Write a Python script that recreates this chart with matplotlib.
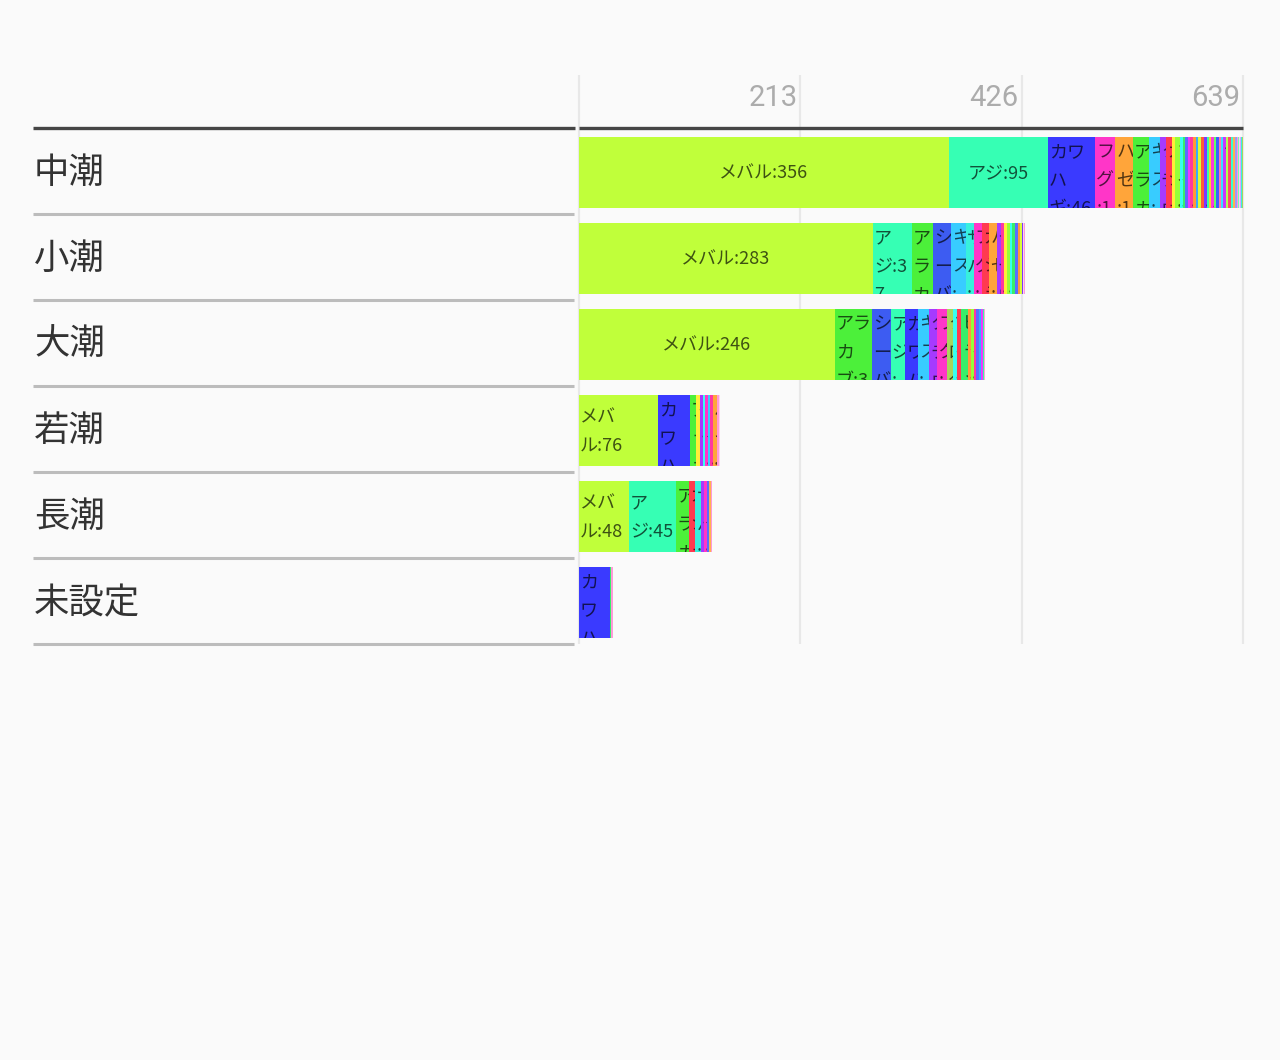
import numpy as np
import matplotlib
matplotlib.use("Agg")
import matplotlib.pyplot as plt
from matplotlib import transforms
from matplotlib.font_manager import FontProperties

plt.rcParams['font.family'] = ['Noto Sans CJK JP', 'DejaVu Sans']

# rows (tide names) and top axis
tides = ["中潮", "小潮", "大潮", "若潮", "長潮", "未設定"]
axis_max = 639
tick_values = [213, 426, 639]

# species colours
species_colors = {
    "メバル": "#c0ff3a", "アジ": "#36ffb4", "カワハギ": "#3a3aff",
    "フグ": "#ff36c8", "ハゼ": "#ffa53a", "アラカブ": "#4cf03a",
    "シーバス": "#3d5cf2", "キス": "#38ccff", "タチウオ": "#a63aff",
    "ガシラ": "#ff3a50", "サバ": "#38f0dc", "クロダイ": "#a8d65c",
    "イワシ": "#ffee38", "ソイ": "#96ff38", "アイナメ": "#38fff0",
    "ヒラメ": "#38ee6a", "カレイ": "#5a6cff", "サヨリ": "#ee38ff",
    "ベラ": "#ff38a0", "メジナ": "#ff9a38", "イサキ": "#38aaff",
    "カマス": "#d8ff38", "アオリイカ": "#ff5a38", "タコ": "#7a38ff",
    "ボラ": "#38ffa0", "キビレ": "#ffc838", "マゴチ": "#ff38d8",
    "エソ": "#62ff62", "キジハタ": "#3860ff", "サワラ": "#ff7aa8",
    "ハマチ": "#38e0ff", "ヤリイカ": "#c838ff", "コウイカ": "#b0ff50",
    "ウミタナゴ": "#ff4a6a", "オコゼ": "#38ffd0", "ゴンズイ": "#ffb050",
    "アナゴ": "#9a9aff", "ダツ": "#ff9ad8", "サッパ": "#70ffb0",
    "コノシロ": "#ffd0f0", "マダイ": "#e0a0ff",
}

chushio_names = ["メバル", "アジ", "カワハギ", "フグ", "ハゼ", "アラカブ", "キス", "タチウオ", "ガシラ",
                 "イワシ", "ソイ", "アイナメ", "ヒラメ", "カレイ", "サヨリ", "ベラ", "メジナ", "イサキ",
                 "カマス", "アオリイカ", "タコ", "ボラ", "キビレ", "マゴチ", "エソ", "キジハタ", "サワラ",
                 "ハマチ", "ヤリイカ", "コウイカ", "ウミタナゴ", "オコゼ", "ゴンズイ", "アナゴ", "ダツ",
                 "サッパ", "コノシロ", "マダイ", "サバ", "クロダイ"]
chushio_counts = [356, 95, 46, 19, 17, 16, 10, 6, 6,
                  3, 4, 3, 2, 3, 2, 3, 3, 2, 3, 2, 3, 2, 2, 3, 2, 3, 2, 2, 3,
                  2, 2, 2, 2, 2, 1, 1, 1, 1, 1, 1]

shoshio_names = ["メバル", "アジ", "アラカブ", "シーバス", "キス", "サバ", "フグ", "ガシラ", "ハゼ",
                 "タチウオ", "ベラ", "イワシ", "ソイ", "アイナメ", "ヒラメ", "カレイ", "メジナ", "カマス",
                 "タコ", "コノシロ", "ダツ"]
shoshio_counts = [283, 37, 21, 17, 14, 8, 8, 7, 7, 4, 3, 3, 3, 2, 3, 2, 2, 2, 1, 1, 1]

oshio_names = ["メバル", "アラカブ", "シーバス", "アジ", "カワハギ", "キス", "タチウオ", "フグ", "クロダイ",
               "アイナメ", "ガシラ", "ヒラメ", "メジナ", "ソイ", "ベラ", "カレイ", "イサキ", "サヨリ",
               "ボラ", "ダツ"]
oshio_counts = [246, 36, 18, 14, 12, 11, 8, 9, 6, 4, 4, 6, 3, 3, 2, 3, 2, 2, 1, 1]

wakashio_names = ["メバル", "カワハギ", "アラカブ", "イワシ", "タチウオ", "アイナメ", "フグ", "キス",
                  "ベラ", "ハゼ", "ダツ", "コノシロ"]
wakashio_counts = [76, 31, 6, 3, 3, 2, 3, 2, 3, 4, 2, 1]

nagashio_names = ["メバル", "アジ", "アラカブ", "ガシラ", "サバ", "タチウオ", "フグ", "カレイ", "ゴンズイ", "ダツ"]
nagashio_counts = [48, 45, 13, 6, 5, 3, 3, 2, 2, 1]

misettei_names = ["カワハギ", "ヒラメ", "ダツ"]
misettei_counts = [30, 1, 2]

rows_names = [chushio_names, shoshio_names, oshio_names, wakashio_names, nagashio_names, misettei_names]
rows_counts = [chushio_counts, shoshio_counts, oshio_counts, wakashio_counts, nagashio_counts, misettei_counts]

W, H = 1280, 1060
fig = plt.figure(figsize=(W / 100, H / 100), dpi=100, facecolor="#fafafa")
ax = fig.add_axes([579 / W, 1 - 644 / H, 664 / W, 516 / H])
ax.set_facecolor("none")
ax.set_axis_off()

bar_h = 0.826
bar_shift = 0.018  # bars sit a touch below the row centre
row_px = 516 / len(tides)
bar_px = bar_h * row_px
px_per_unit = 664 / axis_max

# grid lines, running up behind the tick labels
ax.vlines([0] + tick_values, 0, 1.103, transform=ax.get_xaxis_transform(),
          colors="#e8e8e8", linewidth=1.6, clip_on=False, zorder=0)

for v in tick_values:
    ax.annotate(str(v), xy=(v, 1.058), xycoords=ax.get_xaxis_transform(),
                xytext=(-3, 0), textcoords="offset pixels", ha="right", va="center",
                fontsize=21, color="#acacac", family=["Roboto", "DejaVu Sans"],
                annotation_clip=False)

# header line and row separators
blend = transforms.blended_transform_factory(fig.transFigure, ax.transData)
ax.plot([33 / W, 575 / W], [-0.5, -0.5], transform=blend, color="#454545",
        lw=2.4, clip_on=False, solid_capstyle="butt")
ax.plot([0, axis_max], [-0.5, -0.5], color="#454545", lw=2.4, clip_on=False,
        solid_capstyle="butt")
for i, tide in enumerate(tides):
    ax.plot([33 / W, 574 / W], [i + 0.5, i + 0.5], transform=blend, color="#bcbcbc",
            lw=2.2, clip_on=False, solid_capstyle="butt")
    ax.annotate(tide, xy=(34 / W, i), xycoords=blend, xytext=(0, -2),
                textcoords="offset pixels", ha="left", va="center",
                fontsize=25.5, color="#333333", annotation_clip=False)

ax.set_xlim(0, axis_max)
ax.set_ylim(len(tides) - 0.5, -0.5)

renderer = fig.canvas.get_renderer()
label_font = FontProperties(family=["Noto Sans CJK JP", "DejaVu Sans"], size=13)


def text_w(s):
    w, h, d = renderer.get_text_width_height_descent(s, label_font, ismath=False)
    return w


def wrap(label, width):
    name, num = label.split(":")
    tokens = list(name[:-1]) + [name[-1] + ":" + num]
    lines = []
    cur = ""
    for tok in tokens:
        if text_w(cur + tok) <= width:
            cur += tok
            continue
        if cur:
            lines.append(cur)
            cur = ""
        if text_w(tok) <= width:
            cur = tok
        else:
            for ch in tok:
                if cur and text_w(cur + ch) > width:
                    lines.append(cur)
                    cur = ch
                else:
                    cur += ch
    if cur:
        lines.append(cur)
    return lines


line_h = 28.5
txt_color = (0, 0, 0, 0.68)
for i, (names, counts) in enumerate(zip(rows_names, rows_counts)):
    counts = np.array(counts)
    lefts = np.concatenate([[0], np.cumsum(counts)[:-1]])
    yc = i + bar_shift
    bars = ax.barh(yc, counts, left=lefts, height=bar_h,
                   color=[species_colors[n] for n in names], linewidth=0, zorder=2)
    for rect, name, c, left in zip(bars.patches, names, counts, lefts):
        label = f"{name}:{c}"
        avail = c * px_per_unit
        lines = wrap(label, avail)
        if len(lines) == 1:
            t = ax.annotate(label, xy=(left + c / 2, yc), xytext=(0, -1),
                            textcoords="offset pixels", ha="center", va="center",
                            fontproperties=label_font, color=txt_color, zorder=3)
            t.set_clip_path(rect)
            continue
        n = len(lines)
        block = n * line_h
        if block <= bar_px:
            first = (n - 1) / 2 * line_h
        else:
            first = bar_px / 2 - line_h / 2
        for k, ln in enumerate(lines[:3]):
            t = ax.annotate(ln, xy=(left, yc), xytext=(1, first - k * line_h - 1),
                            textcoords="offset pixels", ha="left", va="center",
                            fontproperties=label_font, color=txt_color, zorder=3)
            t.set_clip_path(rect)

fig.savefig("out.png", dpi=100, facecolor=fig.get_facecolor())
